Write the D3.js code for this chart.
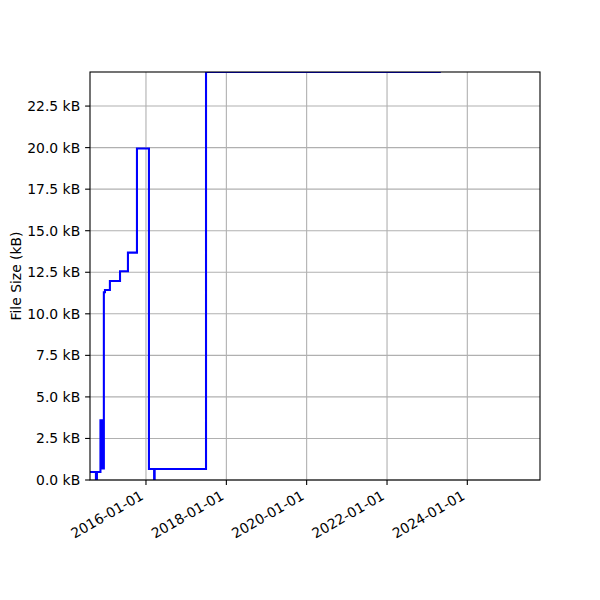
<!DOCTYPE html>
<html>
<head>
<meta charset="utf-8">
<script src="https://cdn.jsdelivr.net/npm/d3@7"></script>
<style>
  body { margin: 0; background: #fff; }
  text { font-family: "DejaVu Sans", sans-serif; }
</style>
</head>
<body>
<div id="d3-container"></div>
<script>
// File size history (step after each commit)
const dates = [
  "2014-08-10", "2014-10-03", "2014-10-12", "2014-11-13", "2014-11-26",
  "2014-12-14", "2014-12-24", "2015-02-07", "2015-05-10", "2015-07-21",
  "2015-10-11", "2016-01-28", "2016-03-15", "2016-03-20", "2017-06-30",
  "2023-05-05"
];
const sizes = [
  0.48, 0.0, 0.48, 3.6, 0.7,
  11.3, 11.43, 11.97, 12.56, 13.68,
  19.95, 0.66, 0.0, 0.66, 24.55,
  24.55
];
const yTicks = [0, 2.5, 5, 7.5, 10, 12.5, 15, 17.5, 20, 22.5];
const xTickYears = [2016, 2018, 2020, 2022, 2024];

const width = 600;
const height = 600;
const margin = { top: 72, bottom: 120, left: 90, right: 60 };

const parse = d3.timeParse("%Y-%m-%d");
const data = dates.map((d, i) => ({ date: parse(d), value: sizes[i] }));

const svg = d3.select('#d3-container')
  .append('svg')
  .attr('width', width)
  .attr('height', height);

const x = d3.scaleTime()
  .domain([parse("2014-08-10"), parse("2025-10-23")])
  .range([margin.left, width - margin.right]);

const y = d3.scaleLinear()
  .domain([0, 24.55])
  .range([height - margin.bottom, margin.top]);

const xTicks = xTickYears.map(yr => new Date(yr, 0, 1));

// clip to the axes box
svg.append("clipPath")
  .attr("id", "plot-clip")
  .append("rect")
  .attr("x", margin.left)
  .attr("y", margin.top)
  .attr("width", width - margin.left - margin.right)
  .attr("height", height - margin.top - margin.bottom);

// Grid lines
svg.selectAll(".h-grid")
  .data(yTicks)
  .enter()
  .append("line")
  .attr("class", "h-grid")
  .attr("x1", margin.left)
  .attr("x2", width - margin.right)
  .attr("y1", d => y(d))
  .attr("y2", d => y(d))
  .style("stroke", "#b0b0b0")
  .style("stroke-width", 1.1);

svg.selectAll(".v-grid")
  .data(xTicks)
  .enter()
  .append("line")
  .attr("class", "v-grid")
  .attr("x1", d => x(d))
  .attr("x2", d => x(d))
  .attr("y1", margin.top)
  .attr("y2", height - margin.bottom)
  .style("stroke", "#b0b0b0")
  .style("stroke-width", 1.1);

// Step line
const line = d3.line()
  .x(d => x(d.date))
  .y(d => y(d.value))
  .curve(d3.curveStepAfter);

svg.append("path")
  .datum(data)
  .attr("clip-path", "url(#plot-clip)")
  .attr("d", line)
  .style("fill", "none")
  .style("stroke", "#0000ff")
  .style("stroke-width", 2.08);

// Axes frame
svg.append("rect")
  .attr("x", margin.left)
  .attr("y", margin.top)
  .attr("width", width - margin.left - margin.right)
  .attr("height", height - margin.top - margin.bottom)
  .style("fill", "none")
  .style("stroke", "#000")
  .style("stroke-width", 1.1);

// Y axis ticks and labels
svg.selectAll(".y-tick")
  .data(yTicks)
  .enter()
  .append("line")
  .attr("x1", margin.left - 4.9)
  .attr("x2", margin.left)
  .attr("y1", d => y(d))
  .attr("y2", d => y(d))
  .style("stroke", "#000")
  .style("stroke-width", 1.1);

svg.selectAll(".y-label")
  .data(yTicks)
  .enter()
  .append("text")
  .attr("x", margin.left - 9.8)
  .attr("y", d => y(d))
  .attr("dy", "0.36em")
  .attr("text-anchor", "end")
  .attr("font-size", "13.9px")
  .attr("fill", "#000")
  .text(d => d3.format(".1f")(d) + " kB");

// X axis ticks and labels
svg.selectAll(".x-tick")
  .data(xTicks)
  .enter()
  .append("line")
  .attr("x1", d => x(d))
  .attr("x2", d => x(d))
  .attr("y1", height - margin.bottom)
  .attr("y2", height - margin.bottom + 4.9)
  .style("stroke", "#000")
  .style("stroke-width", 1.1);

svg.selectAll(".x-label")
  .data(xTicks)
  .enter()
  .append("text")
  .attr("transform", d => `translate(${x(d) - 1.5}, ${height - margin.bottom + 18.5}) rotate(-30)`)
  .attr("text-anchor", "end")
  .attr("font-size", "13.9px")
  .attr("fill", "#000")
  .text(d => d3.timeFormat("%Y-%m-%d")(d));

// Y axis title
svg.append("text")
  .attr("transform", `translate(21, ${(margin.top + height - margin.bottom) / 2}) rotate(-90)`)
  .attr("text-anchor", "middle")
  .attr("font-size", "13.9px")
  .attr("fill", "#000")
  .text("File Size (kB)");
</script>
</body>
</html>
